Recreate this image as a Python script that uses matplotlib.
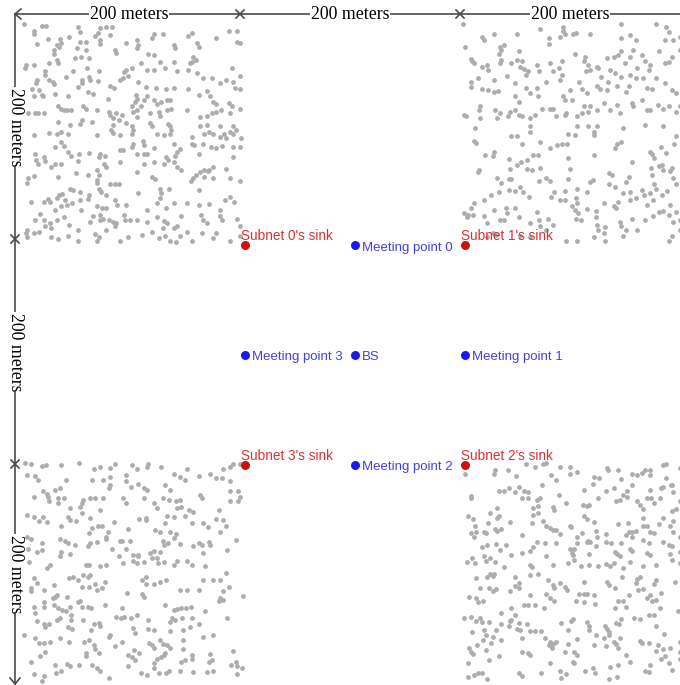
import numpy as np
import matplotlib
matplotlib.use("Agg")
import matplotlib.pyplot as plt

# ---------------- data (meters) ----------------
# Sensor nodes of the four subnets (x, y) in meters, y downward
SUBNET0_NODES = [
(-1,-1),(15,1),(19,1),(48,2),(68,3),(74,2),(79,2),(185,5),(193,5),
(8,5),(8,8),(50,6),(66,7),(64,10),(77,9),(117,8),(125,8),(152,7),(148,10),(40,11),
(21,13),(32,13),(33,16),(50,15),(55,15),(68,14),(68,17),(102,14),(115,12),(156,16),(174,12),(193,15),(195,16),
(11,17),(29,18),(26,23),(26,26),(31,20),(47,21),(55,23),(82,23),(83,25),(92,16),(103,18),(102,21),(135,18),(136,21),(158,20),(112,26),(117,27),(58,30),(51,29),
(29,32),(30,35),(45,30),(123,34),(135,34),(153,29),(155,32),(152,34),(150,35),(1,36),(0,39),(8,36),(22,35),(56,39),(67,42),(44,42),(37,47),(18,42),(18,45),(92,41),(90,43),(97,39),(105,35),(111,41),(117,41),(127,39),(138,42),(148,41),(156,44),(162,48),(170,48),(195,46),(188,39),
(11,50),(10,53),(22,50),(25,52),(26,54),(52,50),(52,53),(59,50),(58,47),(66,51),(77,55),(81,57),(86,50),(89,48),(94,46),(103,52),(110,56),(119,57),(128,58),(135,57),(148,58),(165,60),(177,53),(183,50),(189,52),(191,57),(195,58),
(6,58),(13,59),(15,64),(16,65),(8,65),(27,63),(39,65),(48,56),(57,61),(62,63),(75,67),(101,64),(102,67),(100,70),(108,68),(111,65),(117,68),(120,72),(124,70),(129,68),(132,68),(158,64),(168,65),(171,70),(174,72),(185,71),(188,74),
(3,80),(9,80),(12,80),(17,80),(30,74),(35,77),(33,76),(38,77),(42,77),(55,76),(53,74),(65,77),(76,79),(77,82),(80,85),(83,80),(88,82),(97,74),(98,79),(102,77),(102,84),(105,74),(114,80),(122,79),(123,83),(129,77),(133,76),(147,77),(159,84),(165,83),(170,80),(174,79),(178,77),(186,80),(195,76),
(30,88),(41,91),(52,86),(50,90),(61,88),(80,91),(85,86),(92,89),(97,92),(114,89),(115,92),(130,90),(132,92),(159,92),(165,91),(177,92),(189,92),
(8,100),(22,98),(29,99),(33,97),(39,99),(65,100),(78,95),(80,98),(86,100),(97,99),(98,95),(107,105),(108,109),(108,117),(120,99),(126,100),(132,99),(133,95),(152,102),(154,109),(152,108),(163,99),(167,97),(171,99),(177,102),(181,99),(186,97),(189,99),(192,95),(196,103),
(33,106),(27,111),(35,110),(39,115),(42,119),(49,117),(58,116),(68,117),(67,120),(73,119),(86,114),(89,114),(98,108),(97,111),(102,117),(111,117),(117,112),(135,108),(141,113),(138,115),(136,119),(158,117),(162,108),(169,111),(174,112),(179,110),(183,103),(189,111),(195,111),
(9,117),(10,123),(12,126),(17,120),(18,124),(24,129),(27,126),(33,126),(48,124),(46,135),(57,136),(65,132),(67,136),(74,129),(72,126),(86,125),(102,134),(108,126),(117,125),(126,126),(128,120),(130,123),(135,125),(138,129),(142,132),(159,134),(163,132),(167,132),(171,129),(183,131),(189,120),
(3,139),(8,137),(2,144),(30,138),(41,149),(44,150),(50,152),(57,158),(65,141),(65,144),(67,149),(69,152),(77,145),(82,145),(85,145),(103,153),(115,138),(118,140),(123,149),(124,153),(123,157),(131,149),(151,142),(153,139),(155,136),(163,138),(166,133),(171,139),(186,139),(195,142),(158,150),
(5,161),(17,161),(21,158),(23,161),(29,157),(31,155),(34,154),(36,159),(33,165),(38,164),(43,162),(50,159),(51,168),(58,155),(65,165),(70,166),(74,166),(74,155),(82,159),(84,164),(92,164),(111,168),(120,162),(128,166),(135,162),(147,162),(158,164),(167,163),(177,168),(182,159),(186,156),(190,161),
(14,172),(9,177),(17,177),(23,180),(24,185),(18,183),(29,177),(35,175),(27,168),(40,182),(48,186),(59,179),(62,174),(68,173),(68,177),(71,176),(76,177),(80,179),(83,180),(82,183),(90,173),(91,177),(95,177),(102,177),(111,179),(120,175),(126,178),(129,180),(125,185),(135,185),(138,183),(147,188),(142,174),(160,173),(162,177),(165,180),(179,177),(177,174),(193,176),(195,183),
(2,186),(1,189),(2,193),(8,189),(13,188),(24,193),(30,195),(39,192),(48,196),(64,190),(67,193),(65,196),(74,186),(86,196),(94,193),(106,191),(115,188),(122,194),(127,192),(132,196),(137,197),(141,192),(152,196),(161,189),(171,194),(174,189),(186,196),(195,192),
]
SUBNET1_NODES = [
(398,-1),(400,20),(405,31),(406,33),(408,35),(415,11),(417,14),(426,8),(432,20),(433,23),(431,26),(435,18),(447,8),(449,24),(468,4),(476,12),(476,17),(486,11),(489,5),(491,8),(489,2),(498,8),(501,7),(514,8),(542,-1),(550,9),(542,12),(555,14),(574,-1),(583,2),(585,6),(582,14),(589,14),(595,11),
(415,38),(420,36),(421,41),(432,35),(433,32),(442,35),(447,32),(452,33),(450,38),(454,40),(457,42),(455,45),(465,36),(467,42),(477,35),(485,39),(480,42),(488,33),(488,45),(500,26),(509,29),(508,33),(512,36),(514,41),(510,42),(521,39),(520,38),(529,30),(535,29),(539,27),(542,24),(550,29),(553,23),(561,27),(564,33),(568,36),(567,41),(576,24),(582,35),(585,34),(588,29),(595,23),(545,35),(532,41),(536,44),(542,47),(524,47),(550,45),(556,39),
(405,52),(405,56),(412,48),(415,58),(421,59),(426,61),(430,60),(426,50),(438,46),(445,53),(455,57),(459,62),(465,57),(474,52),(486,50),(495,59),(504,52),(506,58),(511,62),(520,55),(523,58),(529,59),(530,52),(538,55),(546,61),(549,55),(555,48),(562,48),(565,57),(570,58),(574,48),(582,53),(588,59),(592,62),
(399,82),(401,83),(413,77),(414,74),(414,85),(427,77),(429,85),(432,80),(439,83),(441,79),(445,77),(449,82),(452,83),(459,85),(464,82),(470,76),(477,76),(480,76),(483,83),(491,82),(492,80),(497,68),(489,65),(491,68),(502,83),(506,80),(508,74),(512,79),(514,74),(520,77),(526,71),(532,77),(538,73),(541,80),(552,71),(553,74),(561,68),(565,77),(568,77),(575,73),(580,76),(585,74),(592,79),(595,74),(449,70),(445,65),(466,65),(409,94),(459,92),(502,92),(512,92),(520,92),(544,94),(564,91),(580,92),
(408,105),(410,107),(442,101),(447,101),(452,108),(459,97),(468,106),(477,112),(484,109),(488,108),(493,108),(494,99),(500,100),(517,100),(517,97),(538,108),(536,112),(542,106),(570,117),(572,121),(568,115),(583,116),(578,111),(592,101),(590,108),
(418,118),(425,119),(426,115),(440,122),(441,131),(447,127),(451,125),(456,123),(462,118),(466,118),(468,130),(461,132),(456,131),(477,142),(474,139),(467,142),(494,121),(495,131),(494,140),(502,149),(511,152),(517,118),(514,143),(516,141),(531,135),(534,136),(531,145),(536,147),(546,143),(549,138),(552,125),(569,130),(576,128),(579,127),(580,132),(588,130),(586,133),(570,136),(589,139),(592,145),(572,145),(568,153),(574,149),(579,155),(584,151),(561,150),
(413,132),(412,134),(429,139),(433,144),(440,140),(442,140),(440,150),(445,151),(450,147),(453,152),(458,156),(431,152),(424,155),(417,159),(408,162),(405,166),(399,171),(402,175),(403,173),(407,173),(417,174),(426,168),(420,180),(432,177),(435,177),(438,171),(437,166),(445,166),(449,175),(459,180),(465,170),(467,177),(475,176),(480,182),(478,156),(481,152),(486,159),(491,159),(491,151),(501,157),(502,162),(497,165),(500,168),(503,171),(501,176),(505,177),(511,167),(519,169),(519,175),(520,182),(527,184),(526,162),(535,165),(537,166),(539,161),(544,153),(550,152),(550,159),(555,157),(563,155),(565,164),(571,159),(576,170),(580,169),(586,164),(585,173),(592,170),(595,177),(564,177),(571,174),(552,176),(541,179),(542,183),(546,186),(556,186),(526,189),(521,186),(425,189),(428,191),(420,193),(492,196),(502,196),(517,193),(527,196),(544,192),(585,196),(588,192),(595,186),(589,179),(450,192),(459,193),(468,183),(474,186),
]
SUBNET2_NODES = [
(400,408),(426,408),(427,405),(439,405),(446,410),(455,399),(464,402),(471,399),(474,398),(478,409),(483,414),(486,402),(495,402),(495,408),(502,406),(517,411),(522,412),(529,403),(530,405),(539,405),(542,413),(552,408),(556,409),(561,407),(564,405),(568,405),(568,409),(580,400),(583,399),(583,412),(588,418),(595,403),
(405,428),(405,430),(431,424),(435,424),(440,421),(445,425),(449,420),(454,424),(457,425),(452,430),(457,430),(465,432),(468,430),(470,418),(462,439),(466,437),(480,438),(481,441),(485,427),(492,435),(508,423),(507,436),(511,437),(513,436),(508,446),(516,417),(521,430),(528,424),(535,421),(537,433),(541,432),(544,427),(547,424),(552,418),(547,429),(556,433),(559,436),(562,440),(565,430),(569,430),(568,423),(572,435),(577,430),(578,421),(580,420),(587,418),(589,425),(595,433),(592,440),
(403,446),(407,449),(409,455),(410,461),(405,462),(408,465),(417,461),(419,462),(421,453),(423,444),(429,439),(431,446),(429,448),(427,458),(429,460),(433,458),(441,452),(452,464),(462,445),(461,453),(466,444),(471,451),(474,455),(477,457),(480,459),(483,459),(486,463),(495,455),(496,456),(502,465),(506,462),(511,449),(517,452),(519,460),(520,465),(512,469),(528,463),(539,454),(546,464),(549,461),(552,461),(552,465),(555,460),(548,453),(562,448),(565,455),(562,455),(568,461),(572,462),(576,454),(580,448),(586,455),(588,442),(589,451),(595,465),(589,461),
(415,475),(420,473),(428,472),(437,473),(432,477),(462,475),(459,478),(465,470),(473,471),(483,471),(495,476),(497,480),(498,482),(499,476),(502,471),(514,470),(511,470),(519,474),(513,481),(528,470),(533,471),(536,479),(538,481),(541,483),(542,471),(550,476),(552,478),(562,468),(567,471),(565,480),(580,470),(585,473),(588,474),(586,481),(595,479),
(402,488),(406,485),(409,489),(417,483),(419,487),(423,485),(427,488),(435,493),(442,482),(452,480),(459,491),(461,493),(466,499),(474,483),(480,491),(494,489),(499,486),(505,492),(513,491),(521,492),(528,490),(532,492),(535,489),(544,494),(550,488),(562,492),(568,482),(574,491),(588,486),(595,489),(423,499),(426,499),
(410,503),(420,502),(425,501),(445,502),(449,507),(445,510),(441,515),(449,512),(459,500),(475,505),(486,507),(491,511),(493,514),(481,512),(480,509),(474,517),(477,521),(481,524),(472,530),(464,527),(457,527),(454,527),(459,518),(508,506),(504,517),(508,517),(511,517),(517,518),(501,524),(508,525),(518,526),(529,506),(531,509),(536,512),(543,502),(556,504),(555,507),(559,502),(574,505),(572,508),(562,513),(557,514),(568,518),(565,521),(591,506),(597,505),(422,512),(425,515),(428,513),(414,512),
(404,520),(410,521),(412,525),(416,524),(442,530),(445,536),(433,535),(442,541),(449,544),(450,550),(456,545),(459,551),(464,551),(469,551),(473,557),(477,561),(476,564),(480,563),(483,561),(479,566),(487,544),(494,550),(496,542),(498,540),(502,558),(511,543),(513,546),(513,550),(527,546),(529,549),(531,552),(531,555),(537,544),(540,545),(542,540),(546,529),(544,524),(539,524),(536,530),(549,518),(554,539),(559,540),(567,536),(570,524),(574,523),(572,536),(577,530),(578,516),(594,533),(574,546),(581,554),
(399,539),(405,538),(410,542),(414,539),(415,543),(422,543),(428,550),(433,545),(440,546),(441,542),(447,549),(406,552),(417,550),(419,555),(425,556),(416,559),(424,562),(433,559),(404,566),(405,570),(407,572),(411,564),(419,568),(422,577),(431,574),(452,557),(452,570),(457,571),(459,573),(477,580),(491,570),(494,563),(499,570),(502,573),(517,564),(519,555),(526,557),(528,565),(535,561),(537,563),(539,566),(541,557),(546,573),(559,560),(561,562),(567,562),(575,564),(580,567),(582,574),(578,576),(585,580),(574,569),(586,566),(595,561),(598,565),(595,576),(595,570),(532,584),(539,582),(550,579),(568,582),(567,588),(588,586),(403,580),(403,593),(408,591),(412,589),(415,589),(420,595),(449,589),(452,592),(469,589),(486,587),(487,594),(492,590),(498,579),(499,580),(509,587),(516,585),(518,589),(531,595),(538,593),(564,587),
]
SUBNET3_NODES = [
(0,398),(5,399),(15,401),(19,400),(33,400),(49,398),(63,404),(68,402),(77,403),(82,399),(97,400),(102,404),(111,402),(112,399),(124,402),(135,408),(141,411),(145,414),(147,404),(158,410),(168,408),(174,412),(179,412),(180,404),(186,402),(189,399),(195,399),
(2,409),(9,410),(12,414),(37,414),(61,414),(71,414),(77,411),(77,418),(76,421),(92,409),(92,415),(96,420),(103,417),(108,421),(111,423),(127,418),(132,423),(159,427),(161,430),(186,424),(194,424),(186,415),(195,429),(194,433),(186,433),
(8,429),(16,424),(20,426),(21,429),(22,433),(27,423),(32,421),(30,430),(35,430),(30,435),(41,439),(52,435),(50,438),(53,432),(59,430),(64,430),(71,430),(68,441),(89,430),(92,435),(108,430),(117,435),(120,439),(125,430),(131,432),(137,433),(141,432),(142,438),(138,439),(149,441),(153,443),(135,447),(145,446),(129,446),(176,441),
(2,445),(8,447),(13,451),(16,447),(20,452),(33,455),(39,447),(41,450),(46,451),(59,448),(52,444),(61,457),(66,455),(70,455),(75,461),(58,462),(74,465),(81,452),(94,458),(104,449),(110,448),(110,450),(118,459),(123,461),(132,461),(137,463),(127,453),(152,453),(162,453),(166,456),(174,449),(180,450),(177,461),(183,455),
(2,465),(5,467),(3,476),(11,479),(15,477),(15,471),(32,467),(36,469),(39,471),(33,479),(41,481),(45,473),(57,474),(59,471),(65,470),(74,467),(79,476),(86,469),(88,469),(95,469),(92,476),(98,482),(103,482),(114,480),(117,478),(115,485),(125,469),(126,473),(123,479),(120,485),(130,471),(135,466),(141,472),(153,474),(158,471),(161,473),(162,480),(167,470),(168,473),(192,468),(184,477),
(4,488),(23,491),(20,494),(32,483),(55,491),(58,491),(68,492),(74,491),(85,483),(89,489),(98,487),(102,489),(103,483),(108,488),(121,489),(126,488),(135,491),(138,487),(147,487),(152,491),(164,492),(183,498),
(8,503),(11,507),(5,512),(5,515),(17,514),(26,509),(27,520),(25,521),(29,518),(38,520),(40,503),(44,502),(48,505),(53,500),(57,502),(59,500),(52,511),(58,511),(64,508),(65,514),(73,506),(70,512),(106,505),(110,502),(110,508),(117,508),(123,506),(128,505),(93,516),(106,517),(108,520),(141,514),(147,514),(158,514),(162,505),(171,505),(177,505),(185,511),(180,515),(177,521),(176,524),(180,523),(198,519),
(8,529),(9,535),(17,529),(17,525),(26,527),(30,530),(34,532),(37,533),(41,529),(42,536),(48,525),(50,524),(52,529),(57,529),(60,530),(73,527),(88,530),(83,538),(87,539),(90,538),(96,539),(102,536),(112,541),(127,527),(135,532),(138,531),(142,530),(146,530),(151,529),(134,539),(136,541),(132,543),(143,539),(152,539),(164,533),(184,539),
(11,542),(17,545),(18,547),(22,545),(29,541),(32,539),(39,547),(42,541),(43,549),(53,541),(60,550),(63,545),(68,546),(67,544),(98,548),(100,553),(112,549),(117,550),(132,551),(144,550),(150,547),(158,545),(-1,555),(9,557),(13,562),(17,562),(23,561),(18,570),(32,557),(40,561),(54,561),(58,559),(63,564),(64,567),(55,571),(55,574),(67,571),(77,555),(76,556),(82,565),(88,561),(99,568),(104,571),(94,573),(97,575),(100,577),(113,562),(115,564),(117,566),(123,559),(125,563),(129,564),(132,566),(127,571),(120,576),(124,575),(126,573),(144,559),(162,556),(171,555),(144,567),(142,579),(152,573),(152,576),(168,572),(170,577),(167,579),(189,569),
(5,579),(14,574),(27,582),(28,589),(33,587),(38,581),(41,583),(49,582),(61,582),(65,585),(68,587),(8,590),(17,592),(15,596),(76,594),(94,583),(105,589),(111,591),(117,580),(117,585),(122,589),(128,589),(131,587),(141,587),(145,577),(153,588),(165,588),(171,587),(192,579),(193,583),(197,585),(193,590),(187,582),
]

SINK_NAMES = ["Subnet 0's sink", "Subnet 1's sink", "Subnet 2's sink", "Subnet 3's sink"]
SINK_X = [200, 400, 400, 200]
SINK_Y = [200, 200, 400, 400]

MEET_NAMES = ["Meeting point 0", "Meeting point 1", "Meeting point 2", "Meeting point 3", "BS"]
MEET_X = [300, 400, 300, 200, 300]
MEET_Y = [200, 300, 400, 300, 300]

SCALE_LABEL = "200 meters"

# ---------------- figure ----------------
W, H = 680, 685
fig = plt.figure(figsize=(W / 100, H / 100), dpi=100)
fig.patch.set_facecolor("white")

ax = fig.add_axes([0, 0, 1, 1])
PX_PER_M = 1.1
ORIGIN_PX = 25.0
ax.set_xlim(-ORIGIN_PX / PX_PER_M, (W - ORIGIN_PX) / PX_PER_M)
ax.set_ylim((H - ORIGIN_PX) / PX_PER_M, -ORIGIN_PX / PX_PER_M)
ax.axis("off")

node_color = "#adadad"
for nodes in (SUBNET0_NODES, SUBNET1_NODES, SUBNET2_NODES, SUBNET3_NODES):
    arr = np.array(nodes, dtype=float)
    ax.scatter(arr[:, 0], arr[:, 1], s=12, color=node_color, linewidths=0, zorder=2)

sink_color = "#cc1111"
sink_text = "#e03030"
ax.scatter(SINK_X, SINK_Y, s=42, color=sink_color, linewidths=0, zorder=4)
for name, x, y in zip(SINK_NAMES, SINK_X, SINK_Y):
    ax.annotate(name, (x, y), xytext=(-4 * 0.72, 9 * 0.72), textcoords="offset points",
                ha="left", va="center", fontsize=9.8, color=sink_text,
                family="Liberation Sans", zorder=5)

meet_color = "#1a1aee"
meet_text = "#4040f0"
ax.scatter(MEET_X, MEET_Y, s=42, color=meet_color, linewidths=0, zorder=4)
for name, x, y in zip(MEET_NAMES, MEET_X, MEET_Y):
    ax.annotate(name, (x, y), xytext=(7 * 0.72, -2.5 * 0.72), textcoords="offset points",
                ha="left", va="center", fontsize=9.5, color=meet_text,
                family="Liberation Sans", zorder=5)

# ---------------- scale rulers (pixel overlay) ----------------
ov = fig.add_axes([0, 0, 1, 1], facecolor="none")
ov.set_xlim(0, W)
ov.set_ylim(H, 0)
ov.axis("off")
lc = "#4a4a4a"
lw = 1.2
x0, y0 = 15, 14
ov.plot([x0, W], [y0, y0], color=lc, lw=lw, zorder=3)
ov.plot([x0, x0], [y0, H - 1], color=lc, lw=lw, zorder=3)
# arrow heads
ov.plot([x0 + 6, x0, x0 + 6], [y0 - 5, y0, y0 + 5], color=lc, lw=lw, zorder=3)
ov.plot([x0 - 5, x0, x0 + 5], [H - 7, H - 1, H - 7], color=lc, lw=lw, zorder=3)
# crosses
for cx in (240, 460):
    ov.plot([cx - 4, cx + 4], [y0 - 4, y0 + 4], color=lc, lw=lw, zorder=3)
    ov.plot([cx - 4, cx + 4], [y0 + 4, y0 - 4], color=lc, lw=lw, zorder=3)
for cy in (239, 464):
    ov.plot([x0 - 4, x0 + 4], [cy - 4, cy + 4], color=lc, lw=lw, zorder=3)
    ov.plot([x0 - 4, x0 + 4], [cy + 4, cy - 4], color=lc, lw=lw, zorder=3)

for cx in (129, 350, 570):
    ov.text(cx, y0, SCALE_LABEL, ha="center", va="center", fontsize=12.8,
            family="Liberation Serif", color="black", zorder=6,
            bbox=dict(facecolor="white", edgecolor="none", pad=0.5))
for cy in (127, 352, 574):
    ov.text(x0, cy, SCALE_LABEL, ha="center", va="center", fontsize=12.8, rotation=270,
            family="Liberation Serif", color="black", zorder=6,
            bbox=dict(facecolor="white", edgecolor="none", pad=0.5))

fig.savefig("out.png", dpi=100, facecolor="white")
